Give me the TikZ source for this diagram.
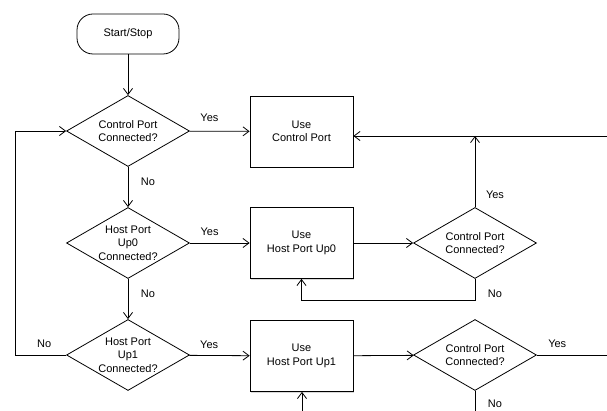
\documentclass[tikz,border=0pt]{standalone}
\usepackage{fontspec}
\setmainfont{Liberation Sans}
\usetikzlibrary{shapes.geometric,arrows.meta,shadows}
\begin{document}
\begin{tikzpicture}[x=1pt,y=-1pt,
  every node/.style={font=\fontsize{11}{13.5}\selectfont},
  box/.style={draw, line width=0.8pt, minimum width=103pt, minimum height=71pt, align=center, fill=white,
    drop shadow={shadow xshift=1.2pt, shadow yshift=-1.2pt, opacity=0.3}},
  dec/.style={draw, diamond, line width=0.8pt, minimum width=123pt, minimum height=71pt, inner sep=-10pt, align=center},
  term/.style={draw, rounded corners=16pt, line width=0.8pt, minimum width=102pt, minimum height=40pt},
  conn/.style={line width=0.8pt, -{Straight Barb[length=6pt,width=9pt]}},
  plain/.style={line width=0.8pt}]
\useasboundingbox (0,0) rectangle (607,411);

\node[term] (start) at (128,34) {Start/Stop};
\node[dec] (d1) at (128,131) {Control Port\\Connected?};
\node[box] (b1) at (301.5,131.5) {Use\\Control Port};
\node[dec] (d2) at (128,243) {Host Port\\Up0\\Connected?};
\node[box] (b2) at (301.5,243) {Use\\Host Port Up0};
\node[dec] (d3) at (475,243) {Control Port\\Connected?};
\node[dec] (d4) at (128,355) {Host Port\\Up1\\Connected?};
\node[box] (b3) at (301.5,356) {Use\\Host Port Up1};
\node[dec] (d5) at (475,355) {Control Port\\Connected?};

\coordinate (rt) at (607,136);
\coordinate (r5) at (607,355);
\coordinate (bot5) at (475,411);
\coordinate (bot3) at (302,411);

\draw[conn] (start) -- (d1);
\draw[conn] (d1) -- node[pos=0.33, yshift=13pt] {Yes} (b1);
\draw[conn] (d1) -- node[pos=0.38, xshift=20pt] {No} (d2);
\draw[conn] (d2) -- node[pos=0.33, yshift=11pt] {Yes} (b2);
\draw[conn] (d2) -- node[pos=0.37, xshift=20pt] {No} (d4);
\draw[conn] (d4) -- node[pos=0.33, yshift=11pt] {Yes} (b3);
\draw[conn] (d4.west) -- node[pos=0.43, yshift=11pt] {No} ++(-51,0) |- (d1.west);
\draw[conn] (b2) -- (d3);
\draw[conn] (b3) -- (d5);
\draw[conn] (rt) -- (b1.east |- rt);
\draw[conn] (d3.north) -- node[pos=0.18, xshift=20pt] {Yes} (d3.north |- rt);
\draw[conn] (d3.south) -- node[pos=0.68, xshift=20pt] {No} ++(0,22) -| (b2.south);
\draw[plain] (d5.east) -- node[pos=0.29, yshift=11pt] {Yes} (r5);
\draw[plain] (d5.south) -- node[pos=0.65, xshift=20pt] {No} (bot5);
\draw[conn] (bot3) -- (b3.south -| bot3);
\end{tikzpicture}
\end{document}
